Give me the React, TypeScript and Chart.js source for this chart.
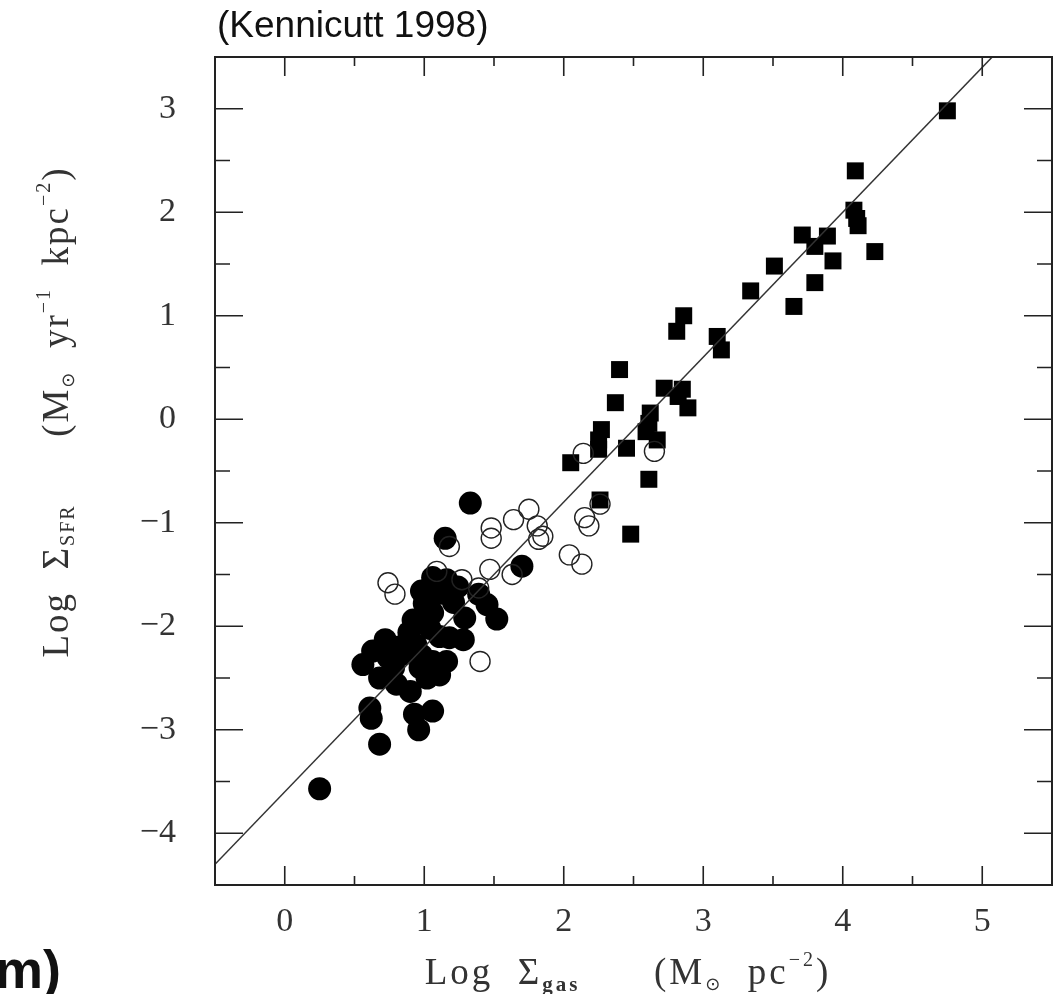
import React, { useEffect, useRef } from 'react';
import { Chart, registerables } from 'chart.js';

Chart.register(...registerables);

// ---- Data ----
// Filled circles: normal disk galaxies
const diskGalaxies = [
  { x: 0.25, y: -3.57 }, { x: 0.68, y: -3.14 }, { x: 0.61, y: -2.79 }, { x: 0.62, y: -2.89 },
  { x: 0.96, y: -3.0 }, { x: 0.93, y: -2.85 }, { x: 1.06, y: -2.82 },
  { x: 1.33, y: -0.81 }, { x: 1.15, y: -1.15 }, { x: 1.7, y: -1.42 }, { x: 1.39, y: -1.69 },
  { x: 1.45, y: -1.79 }, { x: 1.52, y: -1.93 }, { x: 1.06, y: -1.53 }, { x: 1.16, y: -1.55 },
  { x: 0.98, y: -1.66 }, { x: 1.21, y: -1.77 }, { x: 1.29, y: -1.92 }, { x: 0.92, y: -1.94 },
  { x: 1.06, y: -1.87 }, { x: 1.18, y: -2.11 }, { x: 0.72, y: -2.13 }, { x: 0.63, y: -2.24 },
  { x: 0.56, y: -2.37 }, { x: 0.68, y: -2.5 }, { x: 0.8, y: -2.56 }, { x: 0.9, y: -2.63 },
  { x: 1.02, y: -2.5 }, { x: 1.06, y: -2.34 }, { x: 1.16, y: -2.34 }, { x: 1.11, y: -2.47 },
  { x: 0.85, y: -2.27 }, { x: 0.89, y: -2.06 }, { x: 0.94, y: -2.18 }, { x: 1.04, y: -2.02 },
  { x: 1.11, y: -2.1 }, { x: 0.97, y: -2.4 }, { x: 0.78, y: -2.4 }, { x: 1.28, y: -2.13 },
  { x: 1.0, y: -1.78 }, { x: 1.12, y: -1.68 }, { x: 0.82, y: -2.2 }, { x: 1.24, y: -1.62 },
  { x: 0.98, y: -2.28 }, { x: 0.74, y: -2.3 },
];

// Open circles: circumnuclear regions
const circumnuclear = [
  { x: 2.65, y: -0.31 }, { x: 2.14, y: -0.33 }, { x: 2.26, y: -0.82 }, { x: 2.15, y: -0.95 },
  { x: 2.18, y: -1.03 }, { x: 2.04, y: -1.31 }, { x: 2.13, y: -1.4 }, { x: 1.75, y: -0.87 },
  { x: 1.64, y: -0.97 }, { x: 1.81, y: -1.03 }, { x: 1.85, y: -1.13 }, { x: 1.82, y: -1.16 },
  { x: 1.48, y: -1.05 }, { x: 1.48, y: -1.15 }, { x: 1.18, y: -1.23 }, { x: 1.47, y: -1.45 },
  { x: 1.63, y: -1.5 }, { x: 1.27, y: -1.55 }, { x: 0.74, y: -1.58 }, { x: 0.79, y: -1.69 },
  { x: 1.39, y: -1.63 }, { x: 1.4, y: -2.34 }, { x: 1.09, y: -1.47 },
];

// Filled squares: starburst galaxies
const starbursts = [
  { x: 4.75, y: 2.98 }, { x: 4.09, y: 2.4 }, { x: 4.08, y: 2.02 }, { x: 4.1, y: 1.94 },
  { x: 4.11, y: 1.87 }, { x: 4.23, y: 1.62 }, { x: 3.71, y: 1.78 }, { x: 3.89, y: 1.77 },
  { x: 3.8, y: 1.67 }, { x: 3.93, y: 1.53 }, { x: 3.51, y: 1.48 }, { x: 3.8, y: 1.32 },
  { x: 3.65, y: 1.09 }, { x: 3.34, y: 1.24 }, { x: 2.86, y: 1.0 }, { x: 2.81, y: 0.85 },
  { x: 3.1, y: 0.8 }, { x: 3.13, y: 0.67 }, { x: 2.4, y: 0.48 }, { x: 2.72, y: 0.3 },
  { x: 2.85, y: 0.29 }, { x: 2.82, y: 0.22 }, { x: 2.89, y: 0.11 }, { x: 2.37, y: 0.16 },
  { x: 2.62, y: 0.06 }, { x: 2.61, y: -0.04 }, { x: 2.59, y: -0.12 }, { x: 2.67, y: -0.2 },
  { x: 2.27, y: -0.1 }, { x: 2.25, y: -0.2 }, { x: 2.25, y: -0.29 }, { x: 2.45, y: -0.28 },
  { x: 2.05, y: -0.42 }, { x: 2.61, y: -0.58 }, { x: 2.26, y: -0.78 }, { x: 2.48, y: -1.11 },
];

// Fit line endpoints (slope 1.4)
const fitLine = [{ x: -0.5, y: -4.3 }, { x: 5.5, y: 4.1 }];

const xLimits = [-0.5, 5.5];
const yLimits = [-4.5, 3.5];
const tickStep = 0.5;

const SERIF = "'Liberation Serif', 'DejaVu Serif', serif";
const SANS = "'Liberation Sans', Arial, sans-serif";

type Run = { t: string; size: number; dy?: number; family?: string; weight?: string };

function fontOf(r: Run) {
  return `${r.weight || 'normal'} ${r.size}px ${r.family || SERIF}`;
}

function runsWidth(ctx: CanvasRenderingContext2D, runs: Run[]) {
  let w = 0;
  for (const r of runs) {
    ctx.font = fontOf(r);
    w += ctx.measureText(r.t).width;
  }
  return w;
}

function drawRuns(ctx: CanvasRenderingContext2D, runs: Run[], x: number, y: number) {
  let cx = x;
  ctx.textBaseline = 'alphabetic';
  ctx.textAlign = 'left';
  for (const r of runs) {
    ctx.font = fontOf(r);
    ctx.fillText(r.t, cx, y + (r.dy || 0));
    cx += ctx.measureText(r.t).width;
  }
}

const yTitleRuns: Run[] = [
  { t: 'Log  ', size: 37 },
  { t: 'Σ', size: 37 },
  { t: 'SFR', size: 20, dy: 6 },
  { t: '      (M', size: 37 },
  { t: '⊙', size: 18, dy: 6, family: "'DejaVu Sans', sans-serif" },
  { t: '  yr', size: 37 },
  { t: '−1', size: 20, dy: -18 },
  { t: '  kpc', size: 37 },
  { t: '−2', size: 20, dy: -18 },
  { t: ')', size: 37 },
];

const xTitleRuns: Run[] = [
  { t: 'Log  ', size: 37 },
  { t: 'Σ', size: 37 },
  { t: 'gas', size: 21, dy: 7, weight: 'bold' },
  { t: '      (M', size: 37 },
  { t: '⊙', size: 18, dy: 6, family: "'DejaVu Sans', sans-serif" },
  { t: '  pc', size: 37 },
  { t: '−2', size: 20, dy: -18 },
  { t: ')', size: 37 },
];

const framePlugin = {
  id: 'framePlugin',
  afterDraw(chart: any) {
    const ctx: any = chart.ctx;
    const { left, right, top, bottom } = chart.chartArea;
    const xs = chart.scales.x;
    const ys = chart.scales.y;
    ctx.save();
    ctx.strokeStyle = '#222';
    ctx.lineWidth = 2;
    ctx.strokeRect(left, top, right - left, bottom - top);
    ctx.lineWidth = 1.6;
    ctx.beginPath();
    for (const t of xs.ticks) {
      const px = xs.getPixelForValue(t.value);
      if (px <= left + 1 || px >= right - 1) continue;
      const len = Number.isInteger(t.value) ? 19 : 9;
      ctx.moveTo(px, bottom); ctx.lineTo(px, bottom - len);
      ctx.moveTo(px, top); ctx.lineTo(px, top + len);
    }
    for (const t of ys.ticks) {
      const py = ys.getPixelForValue(t.value);
      if (py <= top + 1 || py >= bottom - 1) continue;
      const len = Number.isInteger(t.value) ? 28 : 15;
      ctx.moveTo(left, py); ctx.lineTo(left + len, py);
      ctx.moveTo(right, py); ctx.lineTo(right - len, py);
    }
    ctx.stroke();

    ctx.fillStyle = '#333';
    // x title
    ctx.letterSpacing = '3px';
    const xw = runsWidth(ctx, xTitleRuns);
    drawRuns(ctx, xTitleRuns, 628 - xw / 2, 984);
    // y title (rotated)
    ctx.letterSpacing = '2px';
    const yw = runsWidth(ctx, yTitleRuns);
    ctx.save();
    ctx.translate(68, 412);
    ctx.rotate(-Math.PI / 2);
    drawRuns(ctx, yTitleRuns, -yw / 2, 0);
    ctx.restore();
    ctx.letterSpacing = '0px';

    // top caption
    ctx.fillStyle = '#111';
    ctx.font = `37px ${SANS}`;
    ctx.textAlign = 'left';
    ctx.textBaseline = 'alphabetic';
    ctx.fillText('(Kennicutt 1998)', 217, 37);
    // cut-off bold fragment at bottom-left
    ctx.font = `bold 54px ${SANS}`;
    ctx.fillText('m)', -5, 988);
    ctx.restore();
  },
};

const tickLabel = (v: number) => {
  if (!Number.isInteger(v)) return '';
  return v < 0 ? '−' + Math.abs(v) : String(v);
};

export default function App() {
  const ref = useRef<HTMLCanvasElement | null>(null);
  useEffect(() => {
    if (!ref.current) return;
    const chart = new Chart(ref.current, {
      type: 'scatter',
      data: {
        datasets: [
          {
            label: 'fit',
            data: fitLine,
            showLine: true,
            borderColor: '#333',
            borderWidth: 1.5,
            pointRadius: 0,
            order: 0,
          } as any,
          {
            label: 'circumnuclear',
            data: circumnuclear,
            pointStyle: 'circle',
            pointRadius: 10,
            backgroundColor: 'rgba(0,0,0,0)',
            borderColor: '#222',
            borderWidth: 1.4,
            order: 1,
          },
          {
            label: 'starbursts',
            data: starbursts,
            pointStyle: 'rect',
            pointRadius: 12,
            backgroundColor: '#000',
            borderColor: '#000',
            borderWidth: 0,
            order: 2,
          },
          {
            label: 'disks',
            data: diskGalaxies,
            pointStyle: 'circle',
            pointRadius: 11.5,
            backgroundColor: '#000',
            borderColor: '#000',
            borderWidth: 0,
            order: 3,
          },
        ],
      },
      options: {
        animation: false,
        responsive: false,
        events: [],
        layout: { autoPadding: false, padding: { top: 57, right: 2, left: 0, bottom: 0 } },
        plugins: { legend: { display: false }, tooltip: { enabled: false } },
        scales: {
          x: {
            type: 'linear',
            min: xLimits[0],
            max: xLimits[1],
            ticks: {
              stepSize: tickStep,
              autoSkip: false,
              maxRotation: 0,
              padding: 9,
              color: '#333',
              font: { family: SERIF, size: 34 },
              callback: (v: any) => tickLabel(Number(v)),
            },
            grid: { display: false },
            border: { display: false },
            afterFit: (s: any) => { s.height = 109; s.paddingLeft = 0; s.paddingRight = 0; },
          },
          y: {
            type: 'linear',
            min: yLimits[0],
            max: yLimits[1],
            ticks: {
              stepSize: tickStep,
              autoSkip: false,
              padding: 31,
              color: '#333',
              font: { family: SERIF, size: 34 },
              callback: (v: any) => tickLabel(Number(v)),
            },
            grid: { display: false },
            border: { display: false },
            afterFit: (s: any) => { s.width = 215; s.paddingTop = 0; s.paddingBottom = 0; },
          },
        },
      },
      plugins: [framePlugin],
    });
    return () => chart.destroy();
  }, []);
  return (
    <div style={{ position: 'absolute', left: 0, top: 0, width: 1054, height: 994, background: '#fff' }}>
      <canvas ref={ref} width={1054} height={994} style={{ display: 'block' }} />
    </div>
  );
}
